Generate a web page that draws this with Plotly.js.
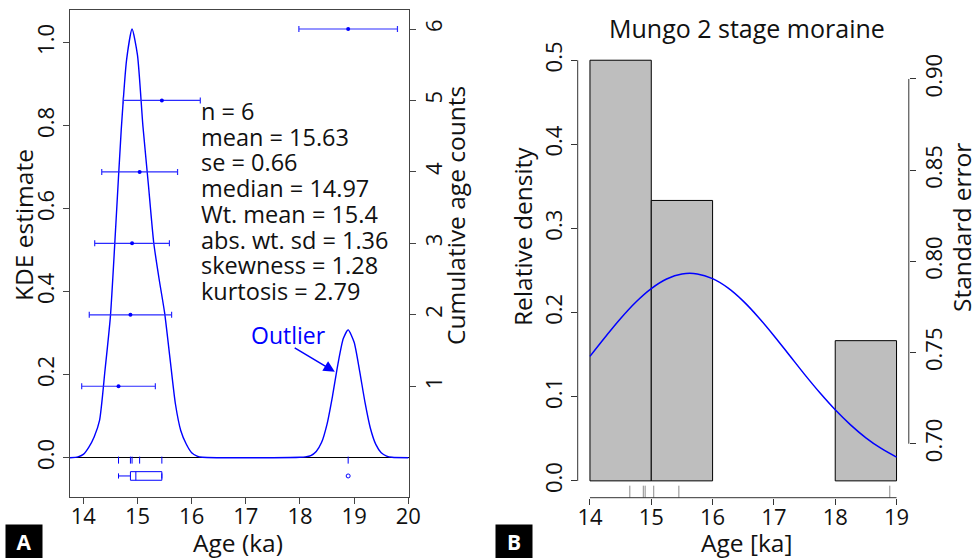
<!DOCTYPE html>
<html><head><meta charset="utf-8">
<script src="https://cdn.plot.ly/plotly-3.0.1.min.js"></script>
<style>html,body{margin:0;padding:0;background:#fff}#chart{width:974px;height:558px}</style>
</head><body><div id="chart"></div>
<script>
// ---- data ----
const ages = [14.65, 14.87, 14.90, 15.04, 15.45, 18.89];
const cumCounts = [1, 2, 3, 4, 5, 6];
const ageErrors = [0.68, 0.76, 0.69, 0.70, 0.71, 0.91];

const kdeX = [13.75, 13.9, 14.0, 14.1, 14.2, 14.3, 14.4, 14.5, 14.6, 14.7, 14.8, 14.9, 15.0, 15.1, 15.2, 15.3, 15.4, 15.5, 15.6, 15.7, 15.8, 15.9, 16.0, 16.1, 16.2, 16.5, 17.0, 17.5, 18.0, 18.1, 18.2, 18.3, 18.4, 18.5, 18.6, 18.7, 18.8, 18.89, 19.0, 19.1, 19.2, 19.3, 19.4, 19.5, 19.6, 19.7, 20.0];
const kdeY = [0, 0.002, 0.008, 0.025, 0.05, 0.09, 0.21, 0.34, 0.56, 0.79, 0.96, 1.033, 0.97, 0.80, 0.66, 0.518, 0.43, 0.35, 0.24, 0.13, 0.065, 0.033, 0.012, 0.004, 0.001, 0, 0, 0, 0.001, 0.002, 0.005, 0.015, 0.037, 0.081, 0.148, 0.225, 0.287, 0.308, 0.278, 0.21, 0.134, 0.071, 0.032, 0.012, 0.004, 0.001, 0];

const normX = [14.0, 14.25, 14.5, 14.75, 15.0, 15.25, 15.5, 15.75, 16.0, 16.25, 16.5, 16.75, 17.0, 17.25, 17.5, 17.75, 18.0, 18.25, 18.5, 18.75, 19.0];
const normY = [0.148, 0.171, 0.193, 0.2126, 0.2285, 0.2399, 0.2459, 0.246, 0.2404, 0.2294, 0.2137, 0.1943, 0.1726, 0.1496, 0.1266, 0.1047, 0.0845, 0.0666, 0.0512, 0.0385, 0.0282];

const statsLabels = ['n', 'mean', 'se', 'median', 'Wt. mean', 'abs. wt. sd', 'skewness', 'kurtosis'];
const statsValues = ['6', '15.63', '0.66', '14.97', '15.4', '1.36', '1.28', '2.79'];

const ageTicksA = [14, 15, 16, 17, 18, 19, 20];
const kdeTicks = [0, 0.2, 0.4, 0.6, 0.8, 1.0];
const countTicks = [1, 2, 3, 4, 5, 6];
const ageTicksB = [14, 15, 16, 17, 18, 19];
const densTicks = [0, 0.1, 0.2, 0.3, 0.4, 0.5];
const seTicks = [0.70, 0.75, 0.80, 0.85, 0.90];

// ---- styling ----
const FONT = '"Open Sans", "Noto Sans", sans-serif';
const BLUE = '#0000ff';
const INK = '#111';
const W = 974, H = 558;
const px = v => v / W, py = v => 1 - v / H;

const traces = [
  { type: 'scatter', mode: 'lines', x: kdeX, y: kdeY, xaxis: 'x', yaxis: 'y',
    line: { color: BLUE, width: 1.4, shape: 'spline', smoothing: 0.6 }, hoverinfo: 'skip' },
  { type: 'scatter', mode: 'markers', x: ages, y: ages.map(() => -0.0058), xaxis: 'x', yaxis: 'y',
    marker: { symbol: 'line-ns-open', size: 5, color: BLUE, line: { color: BLUE, width: 1 } }, hoverinfo: 'skip' },
  { type: 'box', orientation: 'h', x: ages, y0: -0.044, width: 0.0207, xaxis: 'x', yaxis: 'y',
    boxpoints: 'outliers', jitter: 0, pointpos: 0, whiskerwidth: 0.6, quartilemethod: 'exclusive',
    fillcolor: 'rgba(0,0,0,0)', line: { color: BLUE, width: 1 },
    marker: { symbol: 'circle-open', size: 4, color: BLUE, line: { width: 1 } }, hoverinfo: 'skip' },
  { type: 'scatter', mode: 'markers', x: ages, y: cumCounts, xaxis: 'x', yaxis: 'y2',
    marker: { color: BLUE, size: 4 },
    error_x: { type: 'data', array: ageErrors, visible: true, color: '#2a2aff', thickness: 1.2, width: 3 },
    hoverinfo: 'skip' },
  { type: 'histogram', x: ages, xaxis: 'x2', yaxis: 'y3', histnorm: 'probability',
    xbins: { start: ageTicksB[0], end: ageTicksB[ageTicksB.length - 1], size: 1 },
    marker: { color: '#bebebe', line: { color: '#000', width: 1 } }, hoverinfo: 'skip' },
  { type: 'scatter', mode: 'lines', x: normX, y: normY, xaxis: 'x2', yaxis: 'y3',
    line: { color: BLUE, width: 1.5, shape: 'spline' }, hoverinfo: 'skip' },
  { type: 'scatter', mode: 'markers', x: ages, y: ages.map(() => -0.0132), xaxis: 'x2', yaxis: 'y3',
    marker: { symbol: 'line-ns-open', size: 9, color: '#8c8c8c', line: { color: '#8c8c8c', width: 1 } }, hoverinfo: 'skip' },
  { type: 'scatter', mode: 'markers', x: [], y: [], xaxis: 'x2', yaxis: 'y4', hoverinfo: 'skip' }
];

const tickFont = { family: FONT, size: 22, color: INK };
const titleFont = { family: FONT, size: 24.5, color: INK };

function ann(x, y, text, extra) {
  return Object.assign({ xref: 'paper', yref: 'paper', x: px(x), y: py(y), xanchor: 'center', yanchor: 'middle',
    showarrow: false, text: text, font: titleFont }, extra || {});
}

const statAnns = statsLabels.map((l, i) => ({
  xref: 'paper', yref: 'paper', x: px(198.5), y: py(111 + i * 25.7), xanchor: 'left', yanchor: 'middle',
  showarrow: false, text: l + ' = ' + statsValues[i], font: { family: FONT, size: 23.5, color: INK }
}));

const layout = {
  width: W, height: H, margin: { l: 0, r: 0, t: 0, b: 0 },
  paper_bgcolor: '#fff', plot_bgcolor: 'rgba(0,0,0,0)', showlegend: false,
  bargap: 0,
  xaxis: { domain: [px(69.5), px(409)], range: [13.745, 20.013], anchor: 'y',
    tickvals: ageTicksA, ticks: 'outside', ticklen: 6, tickcolor: '#444', tickfont: tickFont, ticklabelstandoff: -6,
    showline: true, mirror: true, linecolor: '#444', linewidth: 1, showgrid: false, zeroline: false },
  yaxis: { domain: [py(497), py(10)], range: [-0.0947, 1.0788], anchor: 'x', type: 'linear',
    tickvals: kdeTicks, tickformat: '.1f', tickangle: -90, ticks: 'outside', ticklen: 6, tickcolor: '#444',
    tickfont: tickFont, showline: true, mirror: true, linecolor: '#444', linewidth: 1, showgrid: false,
    zeroline: true, zerolinecolor: '#000', zerolinewidth: 1 },
  yaxis2: { overlaying: 'y', side: 'right', anchor: 'x', range: [-0.55, 6.266],
    tickvals: countTicks, tickangle: -90, ticks: 'outside', ticklen: 6, tickcolor: '#444',
    tickfont: tickFont, showline: false, showgrid: false, zeroline: false },
  xaxis2: { domain: [px(577.7), px(908.8)], range: [13.8, 19.2], anchor: 'y3',
    tickvals: ageTicksB, ticks: 'outside', ticklen: 6, tickcolor: '#333', tickfont: tickFont, ticklabelstandoff: -6,
    showline: false, showgrid: false, zeroline: false },
  yaxis3: { domain: [py(497.7), py(43.4)], range: [-0.02, 0.52], anchor: 'x2',
    tickvals: densTicks, tickformat: '.1f', tickangle: -90, ticks: 'outside', ticklen: 6, tickcolor: '#333',
    tickfont: tickFont, showline: false, showgrid: false, zeroline: false },
  yaxis4: { overlaying: 'y3', side: 'right', anchor: 'x2', range: [0.6704, 0.9195],
    tickvals: seTicks, tickformat: '.2f', tickangle: -90, ticks: 'outside', ticklen: 6, tickcolor: '#333',
    tickfont: tickFont, showline: false, showgrid: false, zeroline: false },
  shapes: [
    { type: 'line', xref: 'x2', yref: 'y3 domain', x0: ageTicksB[0], x1: ageTicksB[ageTicksB.length - 1], y0: 0, y1: 0,
      line: { color: '#333', width: 1 } },
    { type: 'line', xref: 'x2 domain', yref: 'y3', x0: 0, x1: 0, y0: densTicks[0], y1: densTicks[densTicks.length - 1],
      line: { color: '#333', width: 1 } },
    { type: 'line', xref: 'x2 domain', yref: 'y4', x0: 1, x1: 1, y0: seTicks[0], y1: seTicks[seTicks.length - 1],
      line: { color: '#333', width: 1 } }
  ],
  annotations: statAnns.concat([
    { xref: 'x', yref: 'y', x: 17.78, y: 0.296, xanchor: 'center', yanchor: 'middle', showarrow: false, text: 'Outlier',
      font: { family: FONT, size: 23, color: BLUE } },
    { xref: 'x', yref: 'y', x: 18.644, y: 0.207, axref: 'x', ayref: 'y', ax: 17.875, ay: 0.267,
      text: '', showarrow: true, arrowhead: 2, arrowsize: 1.5, arrowwidth: 1.5, arrowcolor: BLUE },
    ann(23, 225, 'KDE estimate', { textangle: -90 }),
    ann(455, 216, 'Cumulative age counts', { textangle: -90 }),
    ann(238, 542, 'Age (ka)'),
    ann(522.5, 236.5, 'Relative density', { textangle: -90 }),
    ann(961, 228, 'Standard error', { textangle: -90 }),
    ann(746.5, 542, 'Age [ka]'),
    ann(746.7, 28, 'Mungo 2 stage moraine', { font: { family: FONT, size: 25, color: INK } }),
    ann(23.5, 541, '<b>A</b>', { bgcolor: '#000', width: 36, height: 33, borderpad: 0,
      font: { family: FONT, size: 21, color: '#fff' } }),
    ann(514, 541, '<b>B</b>', { bgcolor: '#000', width: 36, height: 33, borderpad: 0,
      font: { family: FONT, size: 21, color: '#fff' } })
  ])
};

Plotly.newPlot('chart', traces, layout, { staticPlot: true, displayModeBar: false });
</script>
</body></html>
